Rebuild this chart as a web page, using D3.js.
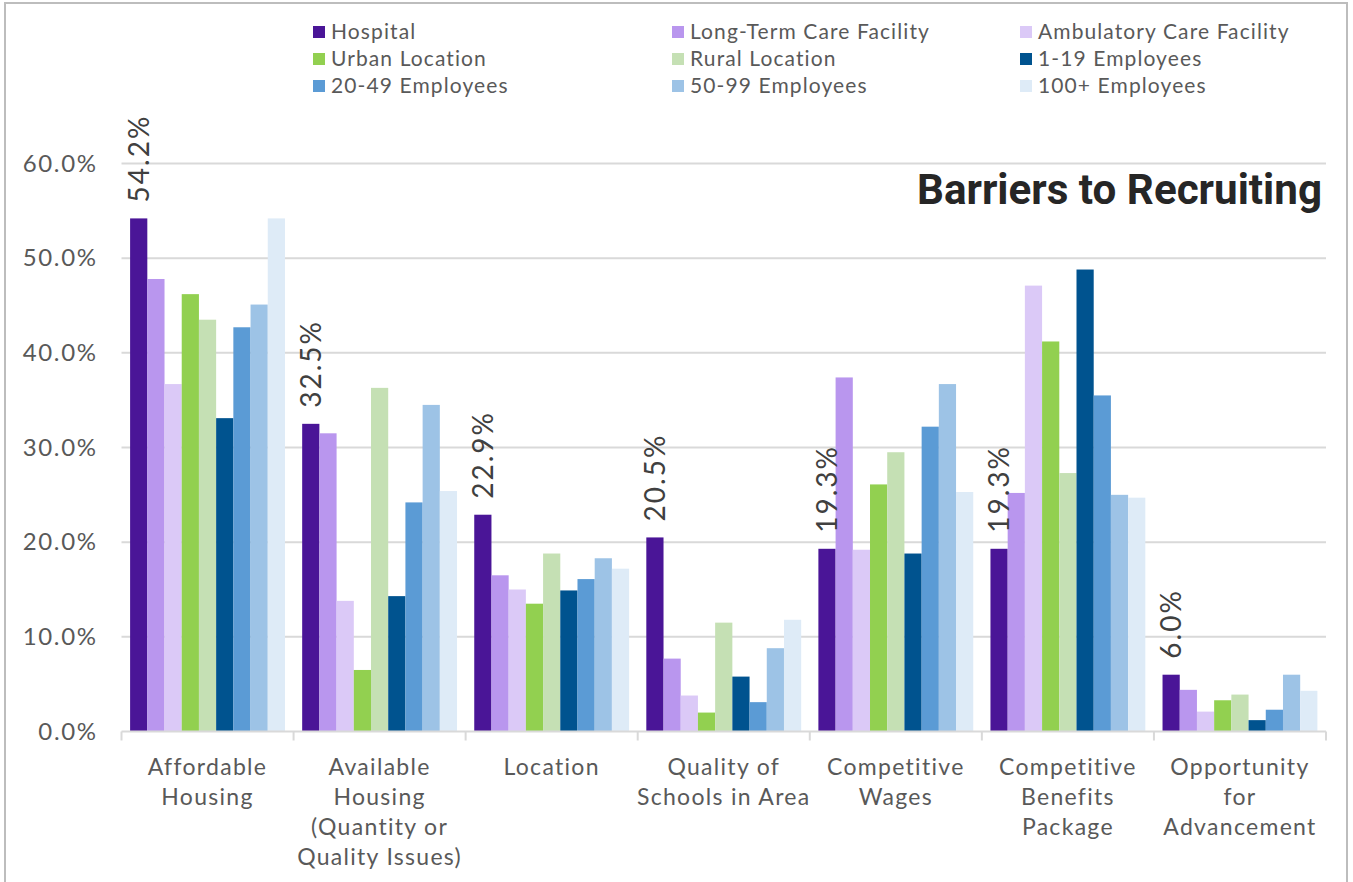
<!DOCTYPE html>
<html>
<head>
<meta charset="utf-8">
<script src="https://cdn.jsdelivr.net/npm/d3@7"></script>
<style>
  html, body { margin: 0; padding: 0; background: #ffffff; }
  svg { display: block; font-family: Lato, "Open Sans", sans-serif; }
</style>
</head>
<body>
<svg id="chart" width="1353" height="882"></svg>
<script>
// Barrier categories (one label line per array entry)
const categories = [
  "Affordable Housing",
  "Available Housing",
  "Location",
  "Quality of Schools",
  "Competitive Wages",
  "Competitive Benefits",
  "Opportunity for Advancement"
];
const categoryLines = [
  ["Affordable", "Housing"],
  ["Available", "Housing", "(Quantity or", "Quality Issues)"],
  ["Location"],
  ["Quality of", "Schools in Area"],
  ["Competitive", "Wages"],
  ["Competitive", "Benefits", "Package"],
  ["Opportunity", "for", "Advancement"]
];

// Respondent groups
const seriesNames = [
  "Hospital", "Long-Term Care Facility", "Ambulatory Care Facility",
  "Urban Location", "Rural Location", "1-19 Employees",
  "20-49 Employees", "50-99 Employees", "100+ Employees"
];
const seriesColors = [
  "#4a1597", "#b996ee", "#dbc9f7",
  "#92d050", "#c5e0b4", "#00538f",
  "#5b9bd5", "#9dc3e6", "#deebf7"
];

// Percent of respondents citing each barrier
const hospital     = [54.2, 32.5, 22.9, 20.5, 19.3, 19.3, 6.0];
const longTermCare = [47.8, 31.5, 16.5,  7.7, 37.4, 25.2, 4.4];
const ambulatory   = [36.7, 13.8, 15.0,  3.8, 19.2, 47.1, 2.1];
const urban        = [46.2,  6.5, 13.5,  2.0, 26.1, 41.2, 3.3];
const rural        = [43.5, 36.3, 18.8, 11.5, 29.5, 27.3, 3.9];
const emp1to19     = [33.1, 14.3, 14.9,  5.8, 18.8, 48.8, 1.2];
const emp20to49    = [42.7, 24.2, 16.1,  3.1, 32.2, 35.5, 2.3];
const emp50to99    = [45.1, 34.5, 18.3,  8.8, 36.7, 25.0, 6.0];
const emp100plus   = [54.2, 25.4, 17.2, 11.8, 25.3, 24.7, 4.3];

const seriesValues = [hospital, longTermCare, ambulatory, urban, rural,
                      emp1to19, emp20to49, emp50to99, emp100plus];

const yTicks = [0, 10, 20, 30, 40, 50, 60];
const chartTitle = "Barriers to Recruiting";

const svg = d3.select("#chart");
const plot = { left: 121.5, right: 1326, top: 163.5, bottom: 731.5 };

// Outer frame
svg.append("rect")
  .attr("x", 5).attr("y", 3).attr("width", 1342).attr("height", 890)
  .attr("fill", "#ffffff").attr("stroke", "#bdbdbd").attr("stroke-width", 2);

const x0 = d3.scaleBand()
  .domain(categories)
  .range([plot.left, plot.right])
  .paddingInner(0.1)
  .paddingOuter(0.05);

const x1 = d3.scaleBand()
  .domain(seriesNames)
  .range([0, x0.bandwidth()]);

const y = d3.scaleLinear().domain([0, 60]).range([plot.bottom, plot.top]);

// Horizontal gridlines
svg.append("g").selectAll("line")
  .data(yTicks.filter(d => d > 0))
  .join("line")
  .attr("x1", plot.left).attr("x2", plot.right)
  .attr("y1", d => y(d)).attr("y2", d => y(d))
  .attr("stroke", "#d9d9d9").attr("stroke-width", 2);

// Y axis labels
const yAxis = d3.axisLeft(y).tickValues(yTicks)
  .tickFormat(d => d3.format(".1f")(d) + "%")
  .tickSize(0).tickPadding(0);
const yg = svg.append("g").attr("transform", `translate(${plot.left - 24},0)`).call(yAxis);
yg.select(".domain").remove();
yg.selectAll("text")
  .attr("fill", "#595959")
  .style("font-size", "24px")
  .style("letter-spacing", "1.6px")
  .style("font-family", "Lato, sans-serif");

// Bars
const groups = svg.append("g").selectAll("g")
  .data(categories)
  .join("g")
  .attr("transform", d => `translate(${x0(d)},0)`);

groups.selectAll("rect")
  .data((c, ci) => seriesNames.map((s, si) => ({ s, si, v: seriesValues[si][ci] })))
  .join("rect")
  .attr("x", d => x1(d.s))
  .attr("width", x1.bandwidth())
  .attr("y", d => y(d.v))
  .attr("height", d => y(0) - y(d.v))
  .attr("fill", d => seriesColors[d.si]);

// Hospital value labels (rotated)
groups.append("text")
  .datum((c, ci) => hospital[ci])
  .attr("transform", d => `translate(${x1("Hospital") + x1.bandwidth() / 2},${y(d) - 16}) rotate(-90)`)
  .attr("dy", "0.36em")
  .attr("text-anchor", "start")
  .attr("fill", "#404040")
  .style("font-size", "28px")
  .style("letter-spacing", "2px")
  .text(d => d3.format(".1f")(d) + "%");

// X axis baseline and category tick marks
const ax = svg.append("g");
ax.append("line")
  .attr("x1", plot.left).attr("x2", plot.right)
  .attr("y1", plot.bottom).attr("y2", plot.bottom)
  .attr("stroke", "#d9d9d9").attr("stroke-width", 2);
const boundaries = d3.range(categories.length + 1).map(i => plot.left + i * x0.step());
ax.selectAll("line.tick")
  .data(boundaries)
  .join("line")
  .attr("class", "tick")
  .attr("x1", d => d).attr("x2", d => d)
  .attr("y1", plot.bottom).attr("y2", plot.bottom + 9)
  .attr("stroke", "#d9d9d9").attr("stroke-width", 2);

// Category labels
const cl = svg.append("g").selectAll("text")
  .data(categories)
  .join("text")
  .attr("x", d => x0(d) + x0.bandwidth() / 2)
  .attr("y", 775)
  .attr("text-anchor", "middle")
  .attr("fill", "#595959")
  .style("font-size", "23px")
  .style("letter-spacing", "1.3px");
cl.selectAll("tspan")
  .data((d, i) => categoryLines[i])
  .join("tspan")
  .attr("x", function () { return d3.select(this.parentNode).attr("x"); })
  .attr("dy", (d, i) => i === 0 ? 0 : 30)
  .text(d => d);

// Title
svg.append("text")
  .attr("x", 1322).attr("y", 204)
  .attr("text-anchor", "end")
  .attr("fill", "#262626")
  .attr("textLength", 405)
  .attr("lengthAdjust", "spacingAndGlyphs")
  .style("font-family", "Roboto, sans-serif")
  .style("font-weight", "bold")
  .style("font-size", "42px")
  .text(chartTitle);

// Legend: 3 columns x 3 rows
const legendCols = [313, 672, 1020];
const legendRows = [32, 59, 86];
const lg = svg.append("g").selectAll("g")
  .data(seriesNames)
  .join("g")
  .attr("transform", (d, i) => `translate(${legendCols[i % 3]},${legendRows[Math.floor(i / 3)]})`);
lg.append("rect")
  .attr("x", 0).attr("y", -6).attr("width", 12).attr("height", 12)
  .attr("fill", (d, i) => seriesColors[i]);
lg.append("text")
  .attr("x", 18).attr("y", 0).attr("dy", "0.35em")
  .attr("fill", "#595959")
  .style("font-size", "21px")
  .style("letter-spacing", "1.1px")
  .text(d => d);
</script>
</body>
</html>
